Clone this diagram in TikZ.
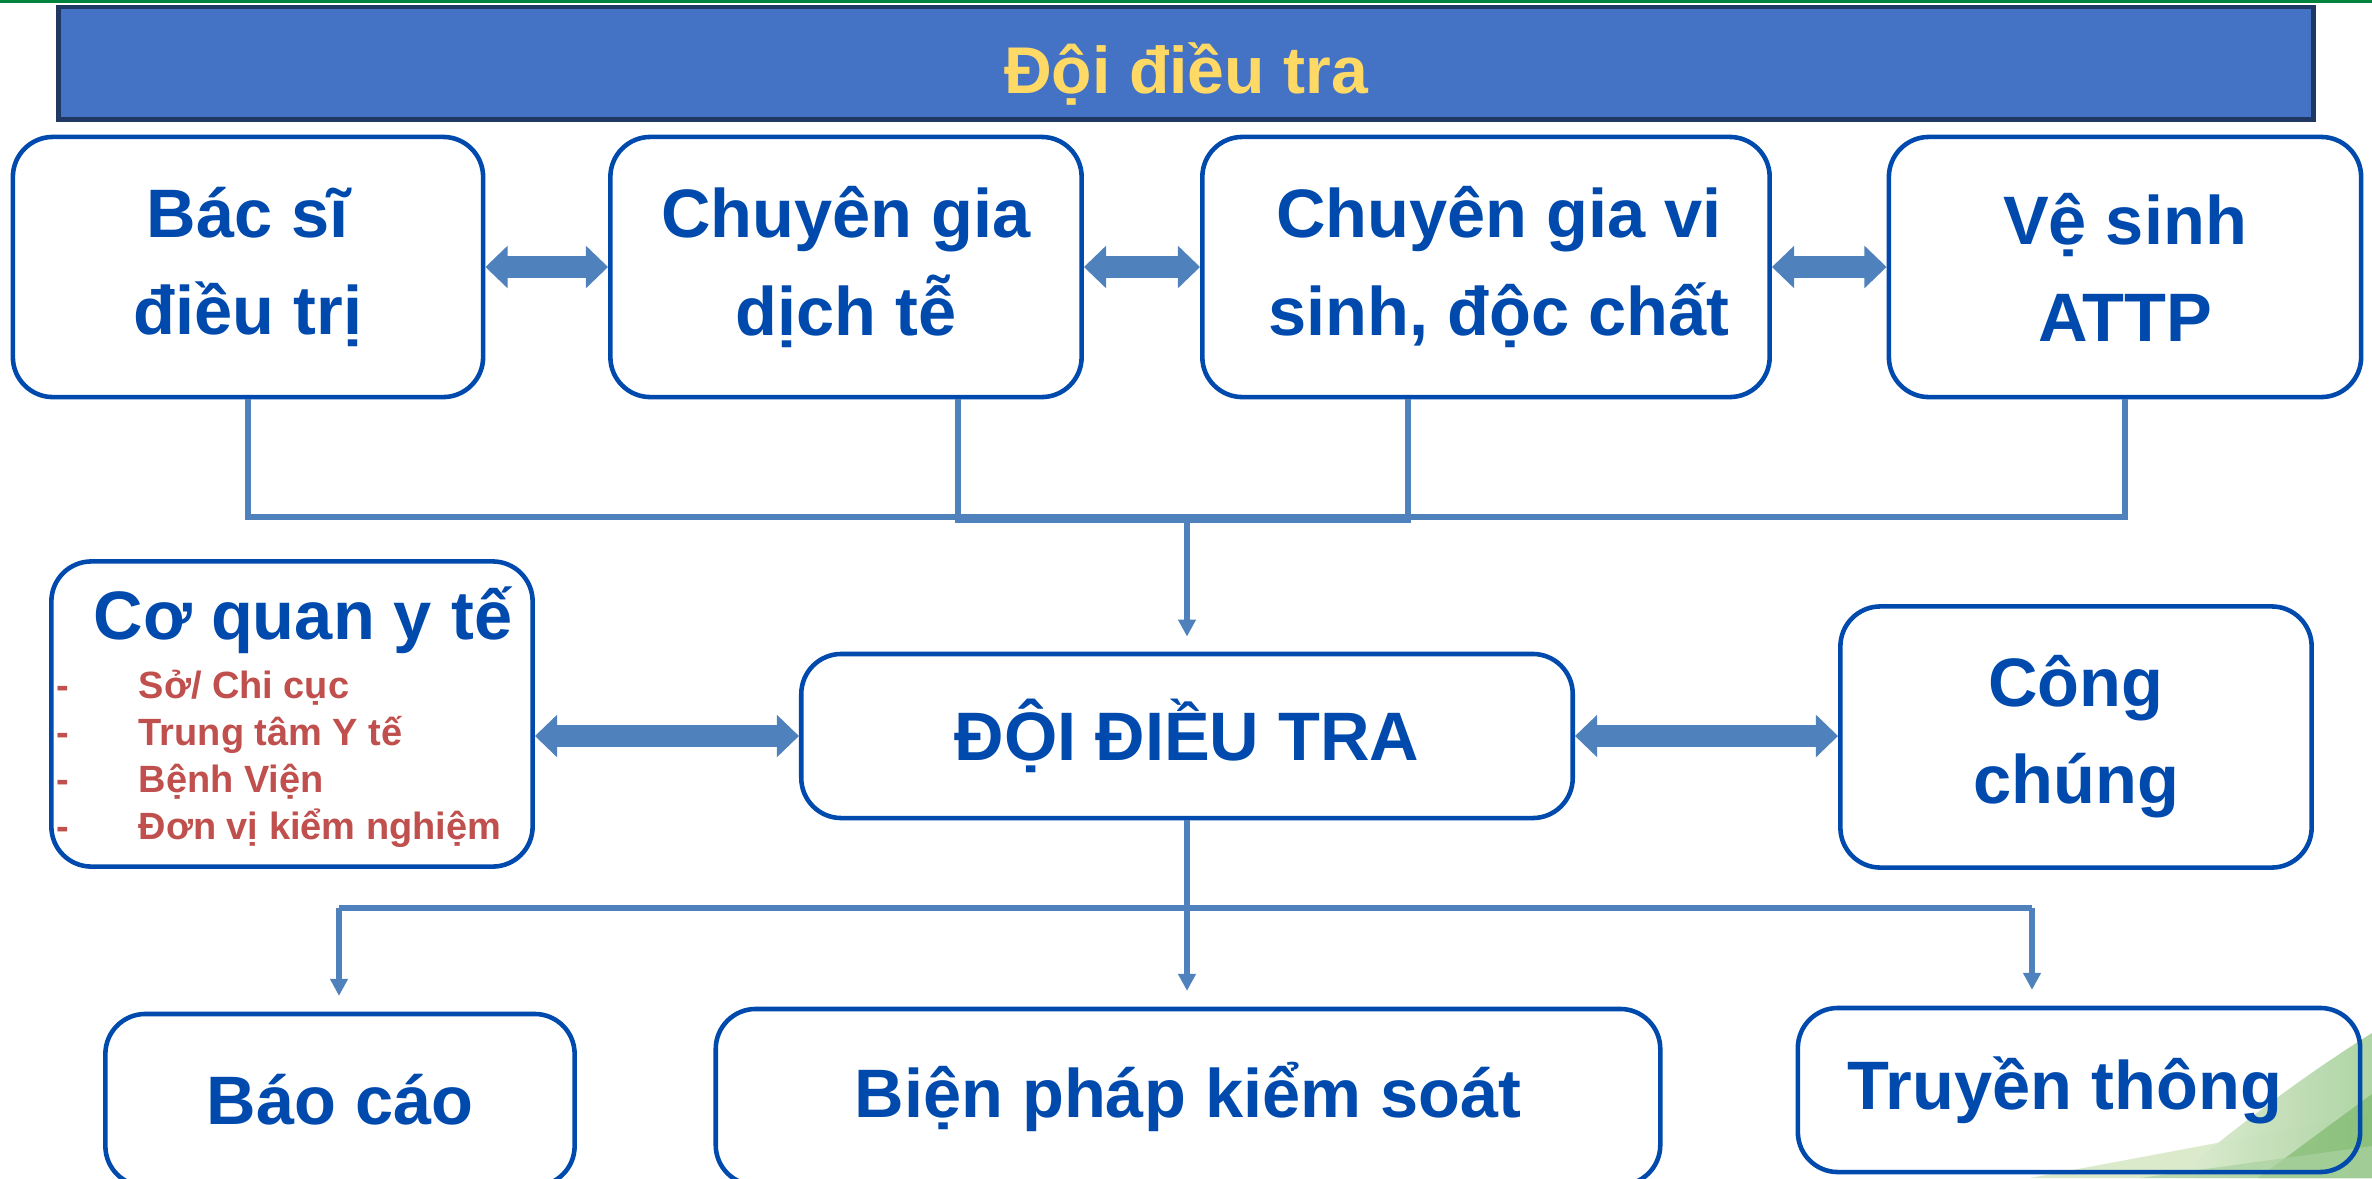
\documentclass[tikz,border=0pt]{standalone}
\usepackage{fontspec}
\setmainfont{Liberation Sans}
\usetikzlibrary{arrows.meta}
\definecolor{boxblue}{RGB}{0,74,173}
\definecolor{linkblue}{RGB}{79,129,189}
\definecolor{listred}{RGB}{192,80,77}
\definecolor{barblue}{RGB}{68,114,196}
\definecolor{barnavy}{RGB}{31,56,100}
\definecolor{titleyellow}{RGB}{255,217,102}
\definecolor{topgreen}{RGB}{0,132,61}
\definecolor{greenlight}{RGB}{214,232,198}
\definecolor{greenmid}{RGB}{170,210,160}
\definecolor{greendark}{RGB}{118,180,100}
\tikzset{
  boxfont/.style={text=boxblue,font=\fontsize{19.5}{27.6}\selectfont\bfseries},
  box/.style={boxfont,draw=boxblue,line width=1.3pt,rounded corners=0.4cm,align=center,inner sep=0pt},
  listitem/.style={text=listred,font=\fontsize{10.8}{13}\selectfont\bfseries,inner sep=0pt,anchor=base west},
  link/.style={draw=linkblue,line width=1.55pt},
  bigarrow/.style={draw=linkblue,line width=6pt,{Triangle[width=11.7pt,length=6.3pt]}-{Triangle[width=11.7pt,length=6.3pt]}},
}
\begin{document}
\begin{tikzpicture}[x=0.01cm,y=-0.01cm,>={Triangle[width=4.8pt,length=4.8pt]},line join=miter]
%%
\clip (0,0) rectangle (2372,1178);
\fill[white] (0,0) rectangle (2372,1178);
\fill[topgreen] (0,0) rectangle (2372,3);
\fill[greenlight,opacity=0.9] (2030,1178) -- (2372,1114) -- (2372,1178) -- cycle;
\shade[left color=greenlight!80!white,right color=greenmid,opacity=0.95] (2175,1178) .. controls (2245,1120) and (2305,1075) .. (2372,1033) -- (2372,1178) -- cycle;
\fill[greendark,opacity=0.6] (2258,1178) -- (2372,1094) -- (2372,1178) -- cycle;
\fill[greenmid,opacity=0.7] (2140,1178) -- (2372,1146) -- (2372,1178) -- cycle;
%
\node (titlebar) at (1186,63) [fill=barblue,draw=barnavy,line width=1.4pt,minimum width=22.53cm,minimum height=1.12cm,text=titleyellow,font=\fontsize{18.8}{22}\selectfont\bfseries] {\raisebox{-0.11cm}[\height][\depth]{Đội điều tra}};
  \node (bacsi) at (248,267) [box,minimum width=4.70cm,minimum height=2.60cm] {Bác sĩ\\điều trị};
  \node (dichte) at (846,267) [box,minimum width=4.71cm,minimum height=2.60cm] {Chuyên gia\\dịch tễ};
  \node (visinh) at (1486,267) [box,minimum width=5.67cm,minimum height=2.60cm] {\hspace*{0.26cm}Chuyên gia vi\\\hspace*{0.26cm}sinh, độc chất};
  \node (vesinh) at (2125,267) [box,minimum width=4.72cm,minimum height=2.60cm] {Vệ sinh\\ATTP};
  \node (coquan) at (292,714) [box,minimum width=4.81cm,minimum height=3.05cm] {};
  \node (coquantitle) at (303,639) [boxfont,anchor=base,inner sep=0pt] {Cơ quan y tế};
  \foreach \t [count=\i] in {Sở/ Chi cục,Trung tâm Y tế,Bệnh Viện,Đơn vị kiểm nghiệm} {
    \node (dash\i) at (56,651+47*\i) [listitem] {-};
    \node (item\i) at (138,651+47*\i) [listitem] {\t};
  }
  \node (doi) at (1187,736) [box,minimum width=7.71cm,minimum height=1.64cm] {ĐỘI ĐIỀU TRA};
  \node (congchung) at (2076,737) [box,minimum width=4.71cm,minimum height=2.61cm] {Công\\chúng};
  \node (baocao) at (340,1100) [box,minimum width=4.69cm,minimum height=1.72cm] {Báo cáo};
  \node (bienphap) at (1188,1097) [box,minimum width=9.44cm,minimum height=1.76cm] {Biện pháp kiểm soát};
  \node (truyenthong) at (2079,1090) [box,minimum width=5.62cm,minimum height=1.64cm] {Truyền thông\hspace*{0.28cm}};
  \coordinate (rail) at (0,517);
  \coordinate (railA) at (958,520);
  \coordinate (railB) at (1408,520);
  \coordinate (splitL) at (339,908);
  \coordinate (splitR) at (2032,908);
  \draw [link] (bacsi.south) -- (bacsi.south |- rail) -- (vesinh.south |- rail) -- (vesinh.south);
  \draw [link] (railA |- dichte.south) -- (railA) -- (railB) -- (railB |- visinh.south);
  \draw [link,->,shorten >=4.3pt] (doi.north |- railA) -- (doi.north);
  \draw [link] (splitL) -- (splitR);
  \draw [link,->,shorten >=4.5pt] (splitL) -- (splitL |- baocao.north);
  \draw [link,->,shorten >=4.5pt] (doi.south) -- (doi.south |- bienphap.north);
  \draw [link,->,shorten >=4.5pt] (splitR) -- (splitR |- truyenthong.north);
  \draw [bigarrow] (bacsi.east) -- (dichte.west);
  \draw [bigarrow] (dichte.east) -- (visinh.west);
  \draw [bigarrow] (visinh.east) -- (vesinh.west);
  \draw [bigarrow] (doi.west -| coquan.east) -- (doi.west);
  \draw [bigarrow] (doi.east) -- (doi.east -| congchung.west);
%
\end{tikzpicture}
\end{document}
